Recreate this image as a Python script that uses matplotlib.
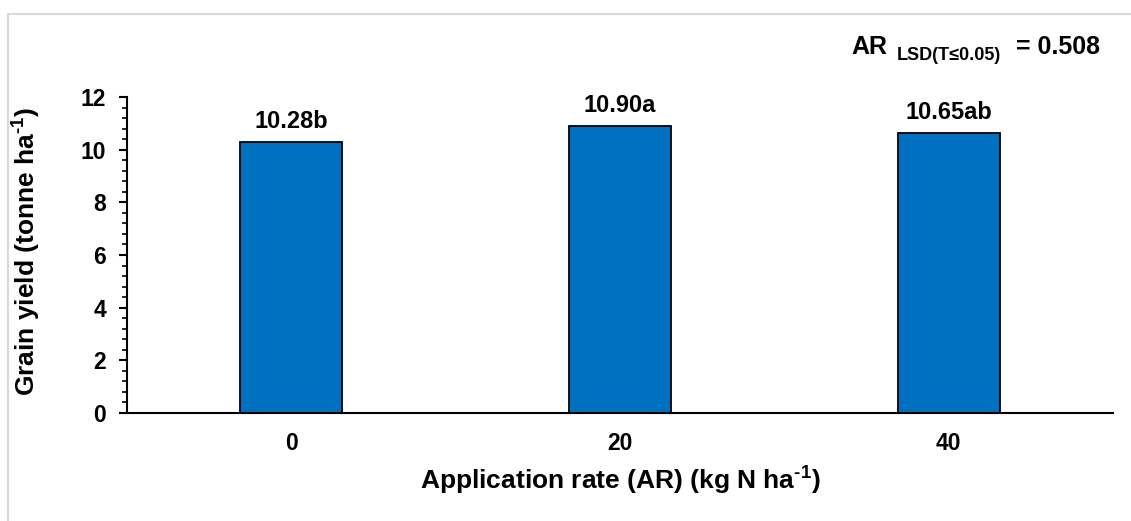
import numpy as np
import matplotlib.pyplot as plt
from matplotlib.ticker import MultipleLocator
from matplotlib.lines import Line2D

plt.rcParams['font.family'] = ['Liberation Sans', 'DejaVu Sans']
plt.rcParams['font.weight'] = 'bold'
plt.rcParams['mathtext.fontset'] = 'custom'
plt.rcParams['mathtext.rm'] = 'Liberation Sans:bold'
plt.rcParams['mathtext.bf'] = 'Liberation Sans:bold'
plt.rcParams['mathtext.default'] = 'bf'

# data
rates = ['0', '20', '40']
yield_vals = [10.28, 10.90, 10.65]
letters = ['b', 'a', 'ab']
lsd = 0.508

fig = plt.figure(figsize=(11.31, 5.21), dpi=100)
ax = fig.add_axes([127 / 1131, 1 - 413 / 521, 986 / 1131, 316 / 521])

x = np.arange(len(rates))
ax.bar(x, yield_vals, width=0.31, color='#0070C0', edgecolor='black', linewidth=1.3, zorder=2)

for xi, v, l in zip(x, yield_vals, letters):
    ax.annotate(f'{v:.2f}{l}', (xi, v), xytext=(0, 10), textcoords='offset points',
                ha='center', va='baseline', fontsize=17, fontweight='bold')

ax.set_xlim(-0.5, len(rates) - 0.5)
ax.set_ylim(0, 12)
ax.set_xticks(x)
ax.set_xticklabels(rates)
ax.yaxis.set_major_locator(MultipleLocator(2))
ax.yaxis.set_minor_locator(MultipleLocator(0.4))

for s in ['top', 'right']:
    ax.spines[s].set_visible(False)
ax.spines['left'].set_linewidth(1.5)
ax.spines['bottom'].set_linewidth(1.5)

ax.tick_params(axis='x', length=0, pad=14, labelsize=16.5)
ax.tick_params(axis='y', which='major', length=6, width=1.5, pad=9, labelsize=16.5)
ax.tick_params(axis='y', which='minor', length=3.5, width=1.2)

ax.set_ylabel(r'Grain yield (tonne ha$^{\text{-1}}$)', fontsize=19, fontweight='bold')
ax.yaxis.set_label_coords(-0.085, 0.51)
ax.set_xlabel(r'Application rate (AR) (kg N ha$^{\text{-1}}$)', fontsize=19, fontweight='bold')
ax.xaxis.set_label_coords(0.5, -0.165)

# LSD note at top right
fig.text(851 / 1131, 1 - 54 / 521, 'AR', fontsize=18, fontweight='bold', va='baseline')
fig.text(897 / 1131, 1 - 60 / 521, 'LSD(T≤0.05)', fontsize=13, fontweight='bold', va='baseline')
fig.text(1016 / 1131, 1 - 54 / 521, f'= {lsd:.3f}', fontsize=18, fontweight='bold', va='baseline')

# light outer frame
fig.add_artist(Line2D([8 / 1131, 8 / 1131], [0, 1 - 14 / 521], transform=fig.transFigure,
                      color='#d9d9d9', linewidth=1.5))
fig.add_artist(Line2D([8 / 1131, 1], [1 - 14 / 521, 1 - 14 / 521], transform=fig.transFigure,
                      color='#d9d9d9', linewidth=1.5))

fig.savefig('out.png', dpi=100)
